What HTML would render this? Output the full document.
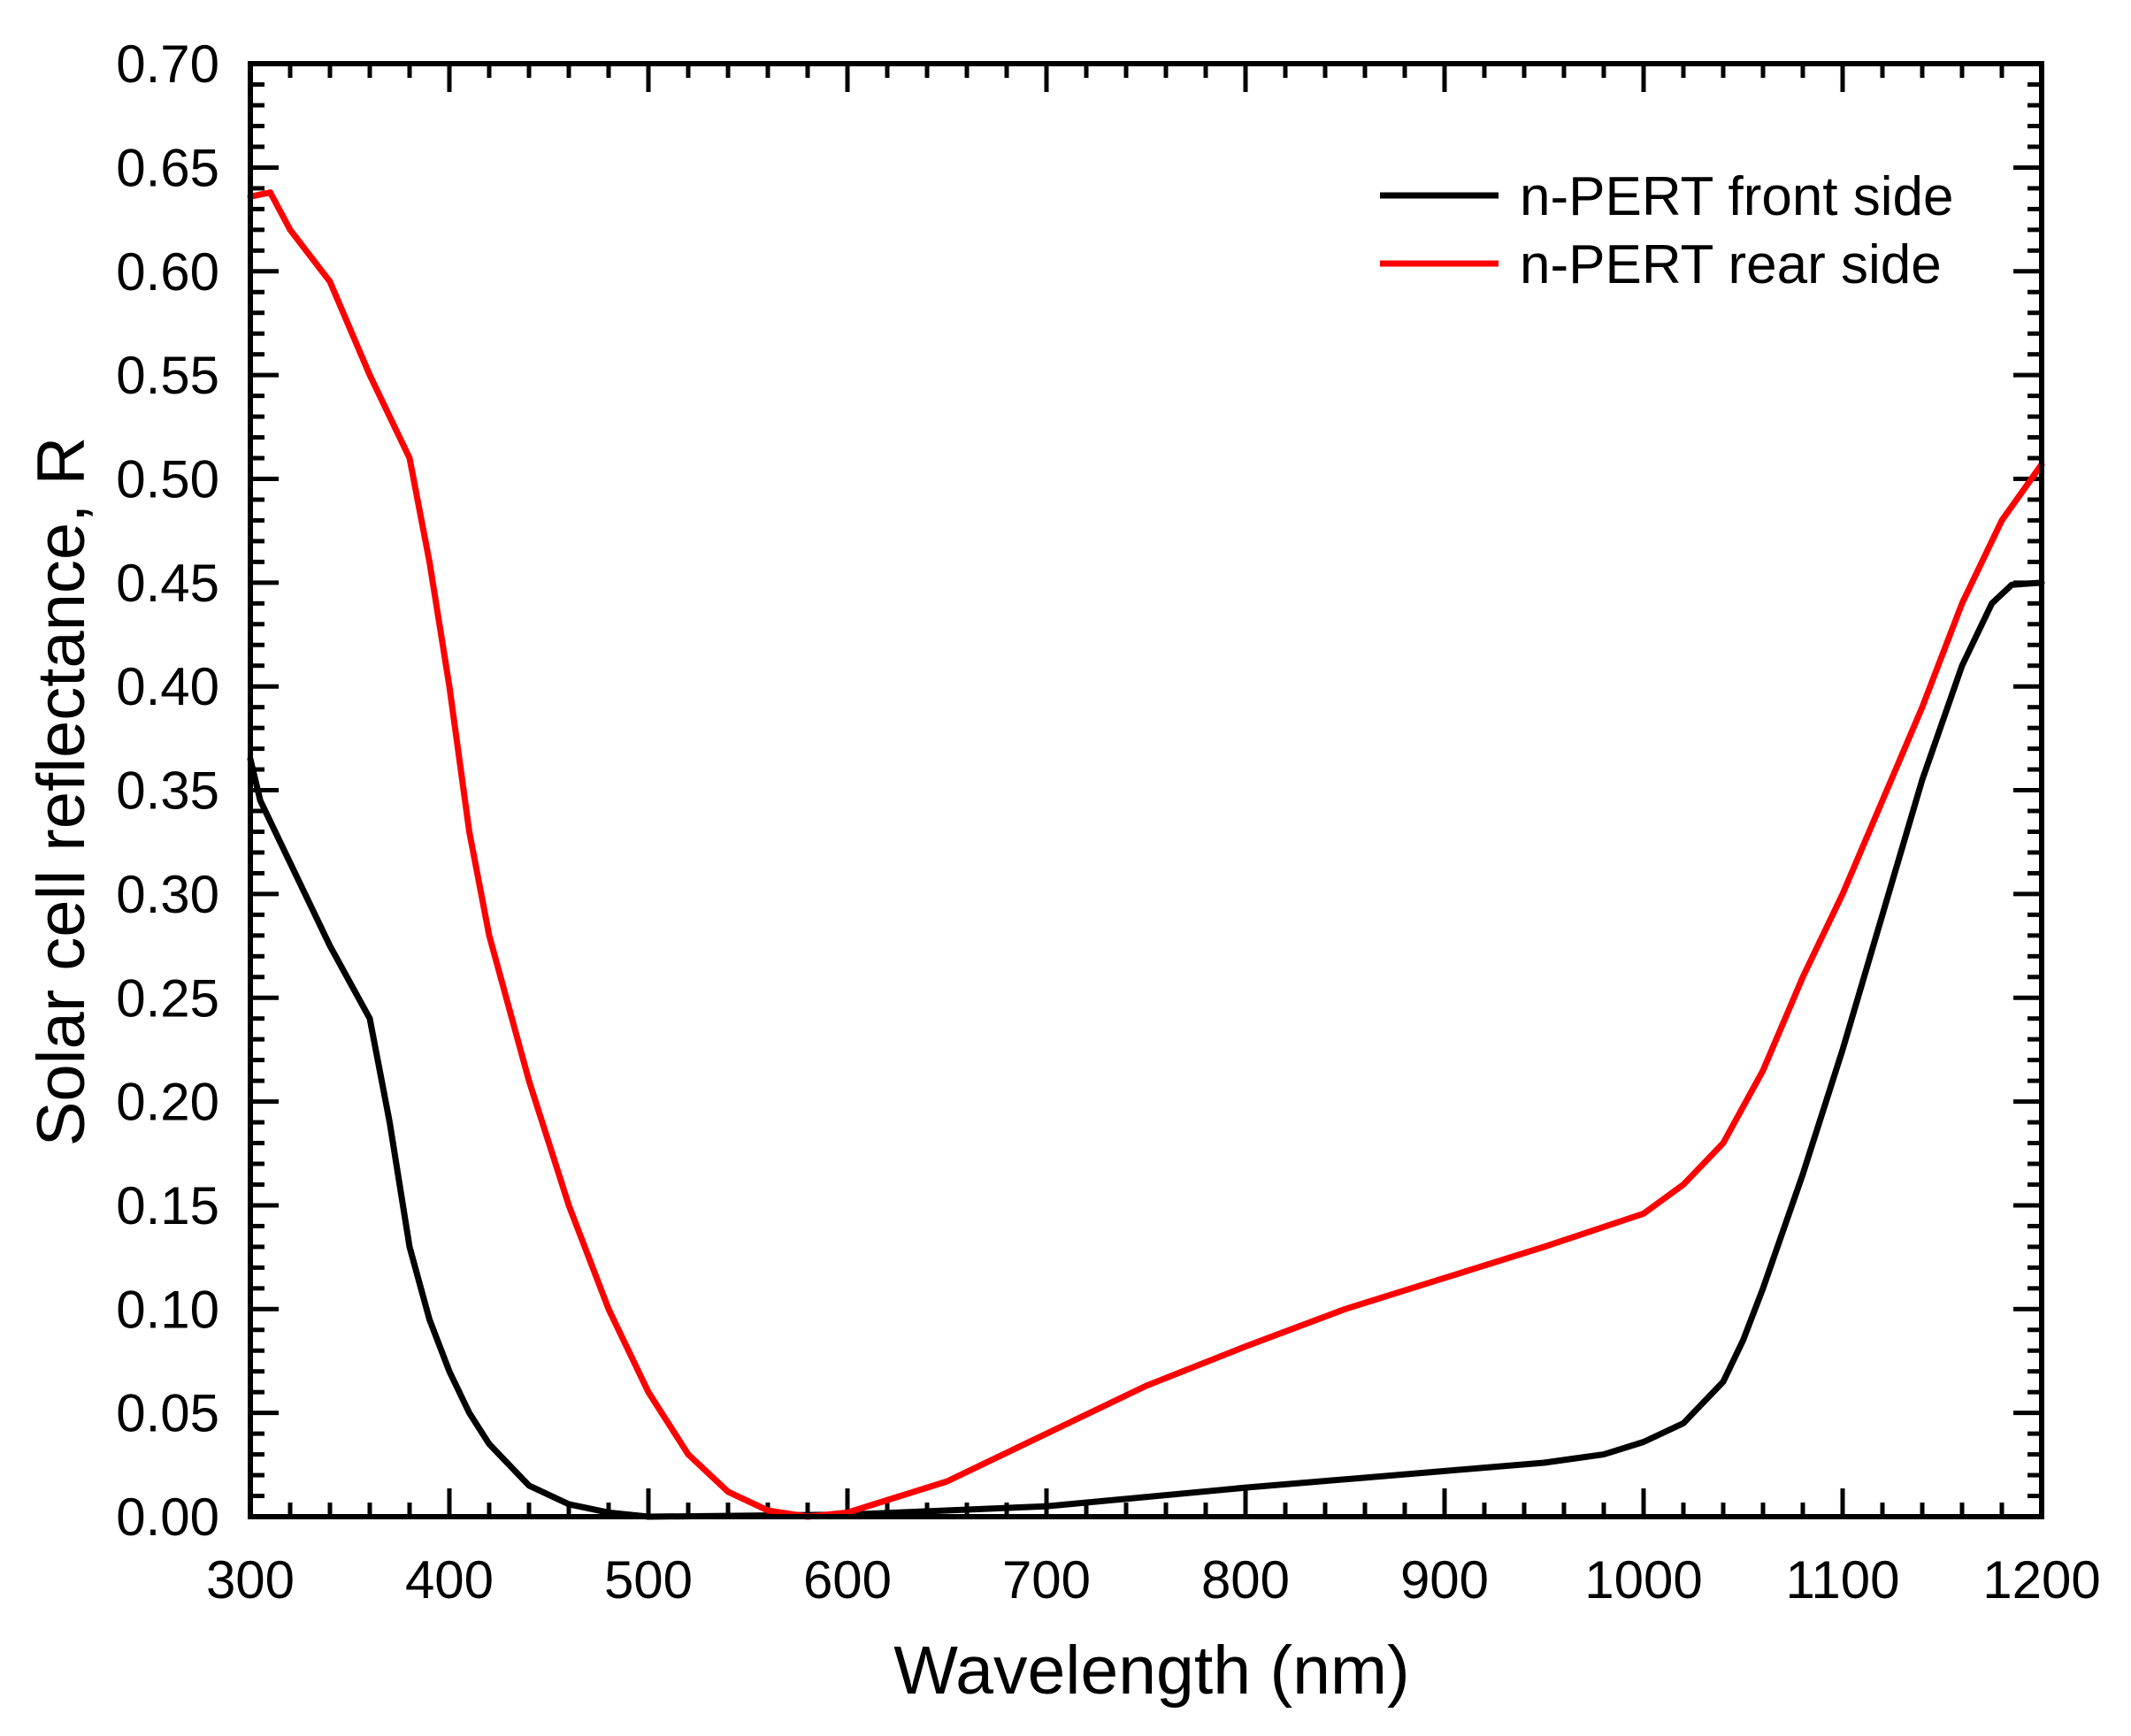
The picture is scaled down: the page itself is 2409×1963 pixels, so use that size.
<!DOCTYPE html>
<html><head><meta charset="utf-8">
<style>
html,body{margin:0;padding:0;background:#fff;}
svg{display:block;font-family:"Liberation Sans",Arial,sans-serif;}
</style></head>
<body>
<svg id="s" width="2409" height="1963" viewBox="0 0 2409 1963" xmlns="http://www.w3.org/2000/svg">
<rect width="2409" height="1963" fill="#fff"/>
<g id="ticks" stroke="#000" stroke-width="5"></g>
<g id="labels" font-size="60" fill="#000"></g>
<g transform="translate(283,1715) scale(2.25,-2347)" fill="none" stroke-linejoin="round" stroke-linecap="round">
<polyline vector-effect="non-scaling-stroke" stroke="#000" stroke-width="7" points="0,0.365 5,0.345 20,0.315 40,0.275 60,0.24 70,0.19 80,0.13 90,0.095 100,0.07 110,0.05 120,0.035 140,0.015 160,0.006 180,0.002 200,0 300,0.001 400,0.005 500,0.014 600,0.022 650,0.026 680,0.03 700,0.036 720,0.045 740,0.065 750,0.085 760,0.11 780,0.165 800,0.225 820,0.29 840,0.355 860,0.41 875,0.44 885,0.449 900,0.45"/>
<polyline vector-effect="non-scaling-stroke" stroke="#f00" stroke-width="7" points="0,0.636 10,0.638 20,0.62 40,0.595 60,0.55 80,0.51 90,0.46 100,0.40 110,0.33 120,0.28 140,0.21 160,0.15 180,0.10 200,0.06 220,0.03 240,0.012 260,0.003 280,0 300,0.002 320,0.008 350,0.017 400,0.04 450,0.063 500,0.082 550,0.1 600,0.115 650,0.13 700,0.146 720,0.16 740,0.18 760,0.215 780,0.26 800,0.3 820,0.345 840,0.39 860,0.44 880,0.48 900,0.507"/>
</g>
<rect x="283" y="72" width="2025" height="1643" fill="none" stroke="#000" stroke-width="6"/>
<line x1="1560" y1="221" x2="1694" y2="221" stroke="#000" stroke-width="7"/>
<line x1="1560" y1="298" x2="1694" y2="298" stroke="#f00" stroke-width="7"/>
<text x="1718" y="243" font-size="62">n-PERT front side</text>
<text x="1718" y="320" font-size="62">n-PERT rear side</text>
<text x="1302" y="1915" font-size="77" text-anchor="middle">Wavelength (nm)</text>
<text transform="translate(95,895) rotate(-90)" font-size="76" text-anchor="middle">Solar cell reflectance, R</text>
</svg>
<script>
var ns="http://www.w3.org/2000/svg";
var t=document.getElementById("ticks"),L=document.getElementById("labels");
function ln(x1,y1,x2,y2){var l=document.createElementNS(ns,"line");l.setAttribute("x1",x1);l.setAttribute("y1",y1);l.setAttribute("x2",x2);l.setAttribute("y2",y2);t.appendChild(l);}
function tx(x,y,s,a){var e=document.createElementNS(ns,"text");e.setAttribute("x",x);e.setAttribute("y",y);e.setAttribute("text-anchor",a);e.textContent=s;L.appendChild(e);}
for(var i=0;i<=45;i++){var x=283+i*45,len=(i%5==0)?32:16;ln(x,1715,x,1715-len);ln(x,72,x,72+len);if(i%5==0)tx(x,1807,String(300+i*20),"middle");}
for(var j=0;j<=70;j++){var y=1715-j*23.47,len=(j%5==0)?32:16;ln(283,y,283+len,y);ln(2308,y,2308-len,y);if(j%5==0)tx(248,y+21,(j/100).toFixed(2),"end");}
</script>
</body></html>
